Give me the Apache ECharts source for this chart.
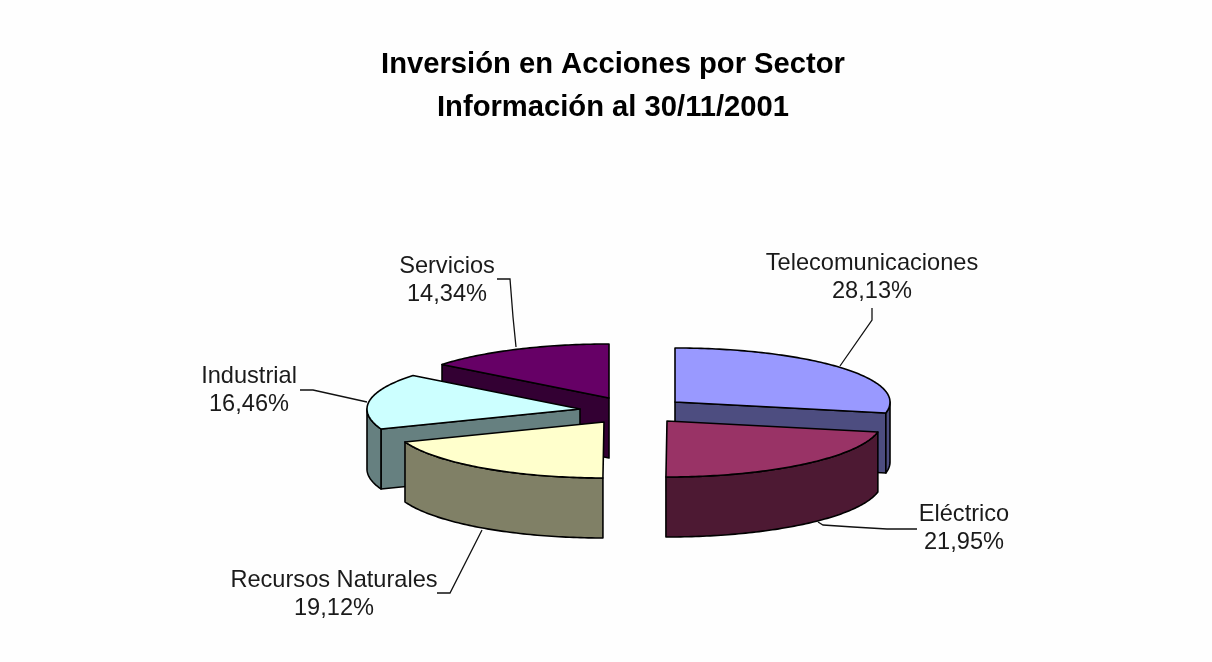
<!DOCTYPE html>
<html>
<head>
<meta charset="utf-8">
<style>html,body{margin:0;padding:0;background:#fefefe}#c{width:1212px;height:662px}</style>
<script src="https://cdn.jsdelivr.net/npm/echarts@6/dist/echarts.min.js"></script>
</head>
<body>
<div id="c"></div>
<script>
// Data
const categories = ['Telecomunicaciones', 'Eléctrico', 'Recursos Naturales', 'Industrial', 'Servicios'];
const shares = [28.13, 21.95, 19.12, 16.46, 14.34];
const titleLines = ['Inversión en Acciones por Sector', 'Información al 30/11/2001'];

// Styles and layout
const topColors = ['#9999FF', '#993366', '#FFFFCC', '#CCFFFF', '#660066'];
const wallColors = ['#4D4D80', '#4D1933', '#808066', '#668080', '#330033'];
const drawOrder = [4, 0, 3, 1, 2];
const centre = [630, 410];
const explode = [[45, -8], [37, 11], [-26, 12], [-50, -1], [-21, -12]];
const RX_RIGHT = 215, RX_LEFT = 213, RY_BACK = 54, RY_FRONT = 56, DEPTH = 60;
const labelAt = [[872, 277], [964, 528], [334, 594], [249, 390], [447, 280]];
const leaders = [
  [[872, 308], [872, 320], [840, 366]],
  [[818, 522], [823, 525], [853, 527], [887, 529], [917, 529]],
  [[437, 593], [450, 593], [482, 530]],
  [[300, 390], [313, 390], [367, 402]],
  [[497, 279], [510, 279], [513, 317], [516, 347]]
];
const LINE = '#000';

const total = shares.reduce((a, b) => a + b, 0);
const starts = [];
shares.reduce((acc, v, i) => { starts[i] = acc; return acc + v; }, 0);
const deg = v => v / total * 360;

function rim(ax, ay, a, dy) {
  const r = a * Math.PI / 180, s = Math.sin(r), c = Math.cos(r);
  return [ax + (s > 0 ? RX_RIGHT : RX_LEFT) * s, ay - (c > 0 ? RY_BACK : RY_FRONT) * c + (dy || 0)];
}
function arc(ax, ay, a0, a1, dy) {
  const pts = [], n = Math.max(2, Math.ceil(Math.abs(a1 - a0)));
  for (let k = 0; k <= n; k++) pts.push(rim(ax, ay, a0 + (a1 - a0) * k / n, dy));
  return pts;
}
function poly(points, fill, z2) {
  return { type: 'polygon', z2, shape: { points },
    style: { fill, stroke: LINE, lineWidth: 1.6, lineJoin: 'round' } };
}

function renderItem(params, api) {
  const i = api.value(0), value = api.value(1), order = drawOrder.indexOf(i);
  const a0 = deg(starts[i]), a1 = a0 + deg(value);
  const ax = centre[0] + explode[i][0], ay = centre[1] + explode[i][1];
  const kids = [];
  const base = order * 10 + 1;
  // radial walls that face the viewer
  [[a0, Math.sin(a0 * Math.PI / 180) < -0.01], [a1, Math.sin(a1 * Math.PI / 180) > 0.01]].forEach(([a, show]) => {
    if (show) kids.push(poly([[ax, ay], rim(ax, ay, a), rim(ax, ay, a, DEPTH), [ax, ay + DEPTH]], wallColors[i], base));
  });
  // outer wall
  const w0 = Math.max(a0, 90), w1 = Math.min(a1, 270);
  if (w1 > w0) {
    const upper = arc(ax, ay, w0, w1, 0), lower = arc(ax, ay, w1, w0, DEPTH);
    kids.push(poly(upper.concat(lower), wallColors[i], base + 1));
  }
  // top face
  kids.push(poly([[ax, ay]].concat(arc(ax, ay, a0, a1, 0)), topColors[i], base + 2));
  return { type: 'group', children: kids };
}

const labelGraphics = categories.map((c, i) => ({
  type: 'text', x: labelAt[i][0], y: labelAt[i][1],
  style: {
    text: c + '\n' + shares[i].toFixed(2).replace('.', ',') + '%',
    font: '23.6px "Liberation Sans", Arial, sans-serif',
    fill: '#1a1a1a', align: 'center', verticalAlign: 'middle', lineHeight: 28
  }
}));
const leaderGraphics = leaders.map(p => ({
  type: 'polyline', shape: { points: p }, z: 5,
  style: { stroke: '#111', lineWidth: 1.3, fill: null }
}));

const chart = echarts.init(document.getElementById('c'), null, { renderer: 'canvas' });
chart.setOption({
  backgroundColor: '#fefefe',
  animation: false,
  title: {
    text: titleLines.join('\n'), left: 608, top: 38, textAlign: 'center',
    textStyle: { fontFamily: '"Liberation Sans", Arial, sans-serif', fontWeight: 'bold', fontSize: 29.2, lineHeight: 43, color: '#000' }
  },
  graphic: leaderGraphics.concat(labelGraphics),
  series: [{
    type: 'custom', coordinateSystem: 'none', silent: true, renderItem,
    data: drawOrder.map(i => [i, shares[i]])
  }]
});
</script>
</body>
</html>
